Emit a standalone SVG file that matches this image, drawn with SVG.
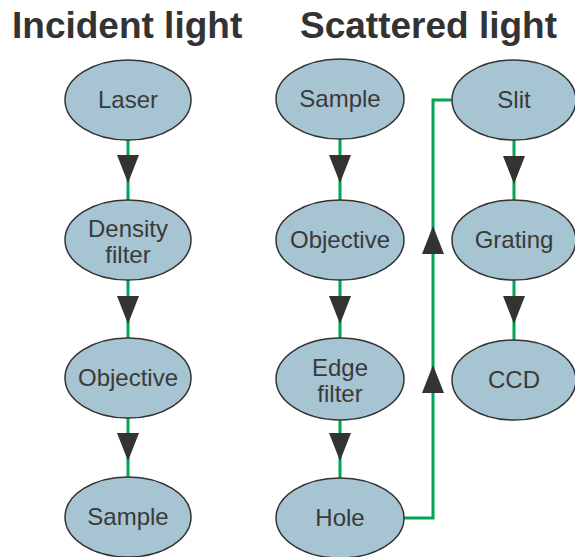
<svg xmlns="http://www.w3.org/2000/svg" xmlns:xlink="http://www.w3.org/1999/xlink" width="575" height="557" viewBox="0 0 575 557">
  <style>
    .node ellipse { fill: #a7c4d2; stroke: #333333; stroke-width: 1.5; }
    .node text { font-family: "Liberation Sans", Arial, sans-serif; font-size: 24px; fill: #3a3a3a; text-anchor: middle; }
    .title { font-family: "Liberation Sans", Arial, sans-serif; font-size: 37px; font-weight: bold; fill: #333333; }
    .wire { fill: none; stroke: #00a651; stroke-width: 3; }
    .head { fill: #333333; }
  </style>
  <defs>
    <path id="down" d="M-11,-14 L11,-14 L0,14 Z"/>
    <path id="up" d="M-11,14 L11,14 L0,-14 Z"/>
  </defs>

  <text class="title" x="12" y="38">Incident light</text>
  <text class="title" x="300" y="38">Scattered light</text>

  <g id="connectors">
    <line class="wire" x1="128" y1="140" x2="128" y2="200"/>
    <line class="wire" x1="128" y1="280" x2="128" y2="338"/>
    <line class="wire" x1="128" y1="418" x2="128" y2="477"/>
    <line class="wire" x1="340" y1="139" x2="340" y2="200"/>
    <line class="wire" x1="340" y1="280" x2="340" y2="338"/>
    <line class="wire" x1="340" y1="420" x2="340" y2="478"/>
    <line class="wire" x1="514" y1="140" x2="514" y2="200"/>
    <line class="wire" x1="514" y1="280" x2="514" y2="340"/>
    <polyline class="wire" points="403,518 433,518 433,100 452,100"/>
    <use class="head" href="#down" x="128" y="169"/>
    <use class="head" href="#down" x="128" y="310"/>
    <use class="head" href="#down" x="128" y="447"/>
    <use class="head" href="#down" x="340" y="169"/>
    <use class="head" href="#down" x="340" y="310"/>
    <use class="head" href="#down" x="340" y="447"/>
    <use class="head" href="#down" x="514" y="170"/>
    <use class="head" href="#down" x="514" y="310"/>
    <use class="head" href="#up" x="433" y="240"/>
    <use class="head" href="#up" x="433" y="379"/>
  </g>

  <g id="laser" class="node"><ellipse cx="128" cy="100" rx="63" ry="40"/><text x="128" y="108">Laser</text></g>
  <g id="density-filter" class="node"><ellipse cx="128" cy="240" rx="63" ry="40"/><text x="128" y="237">Density</text><text x="128" y="263">filter</text></g>
  <g id="objective-in" class="node"><ellipse cx="128" cy="378" rx="63" ry="40"/><text x="128" y="386">Objective</text></g>
  <g id="sample-in" class="node"><ellipse cx="128" cy="517" rx="63" ry="40"/><text x="128" y="525">Sample</text></g>

  <g id="sample-out" class="node"><ellipse cx="340" cy="99" rx="64" ry="40"/><text x="340" y="107">Sample</text></g>
  <g id="objective-out" class="node"><ellipse cx="340" cy="240" rx="64" ry="40"/><text x="340" y="248">Objective</text></g>
  <g id="edge-filter" class="node"><ellipse cx="340" cy="379" rx="64" ry="41"/><text x="340" y="376">Edge</text><text x="340" y="402">filter</text></g>
  <g id="hole" class="node"><ellipse cx="340" cy="518" rx="64" ry="40"/><text x="340" y="526">Hole</text></g>

  <g id="slit" class="node"><ellipse cx="514" cy="100" rx="62" ry="40"/><text x="514" y="108">Slit</text></g>
  <g id="grating" class="node"><ellipse cx="514" cy="240" rx="62" ry="40"/><text x="514" y="248">Grating</text></g>
  <g id="ccd" class="node"><ellipse cx="514" cy="380" rx="62" ry="40"/><text x="514" y="388">CCD</text></g>
</svg>
